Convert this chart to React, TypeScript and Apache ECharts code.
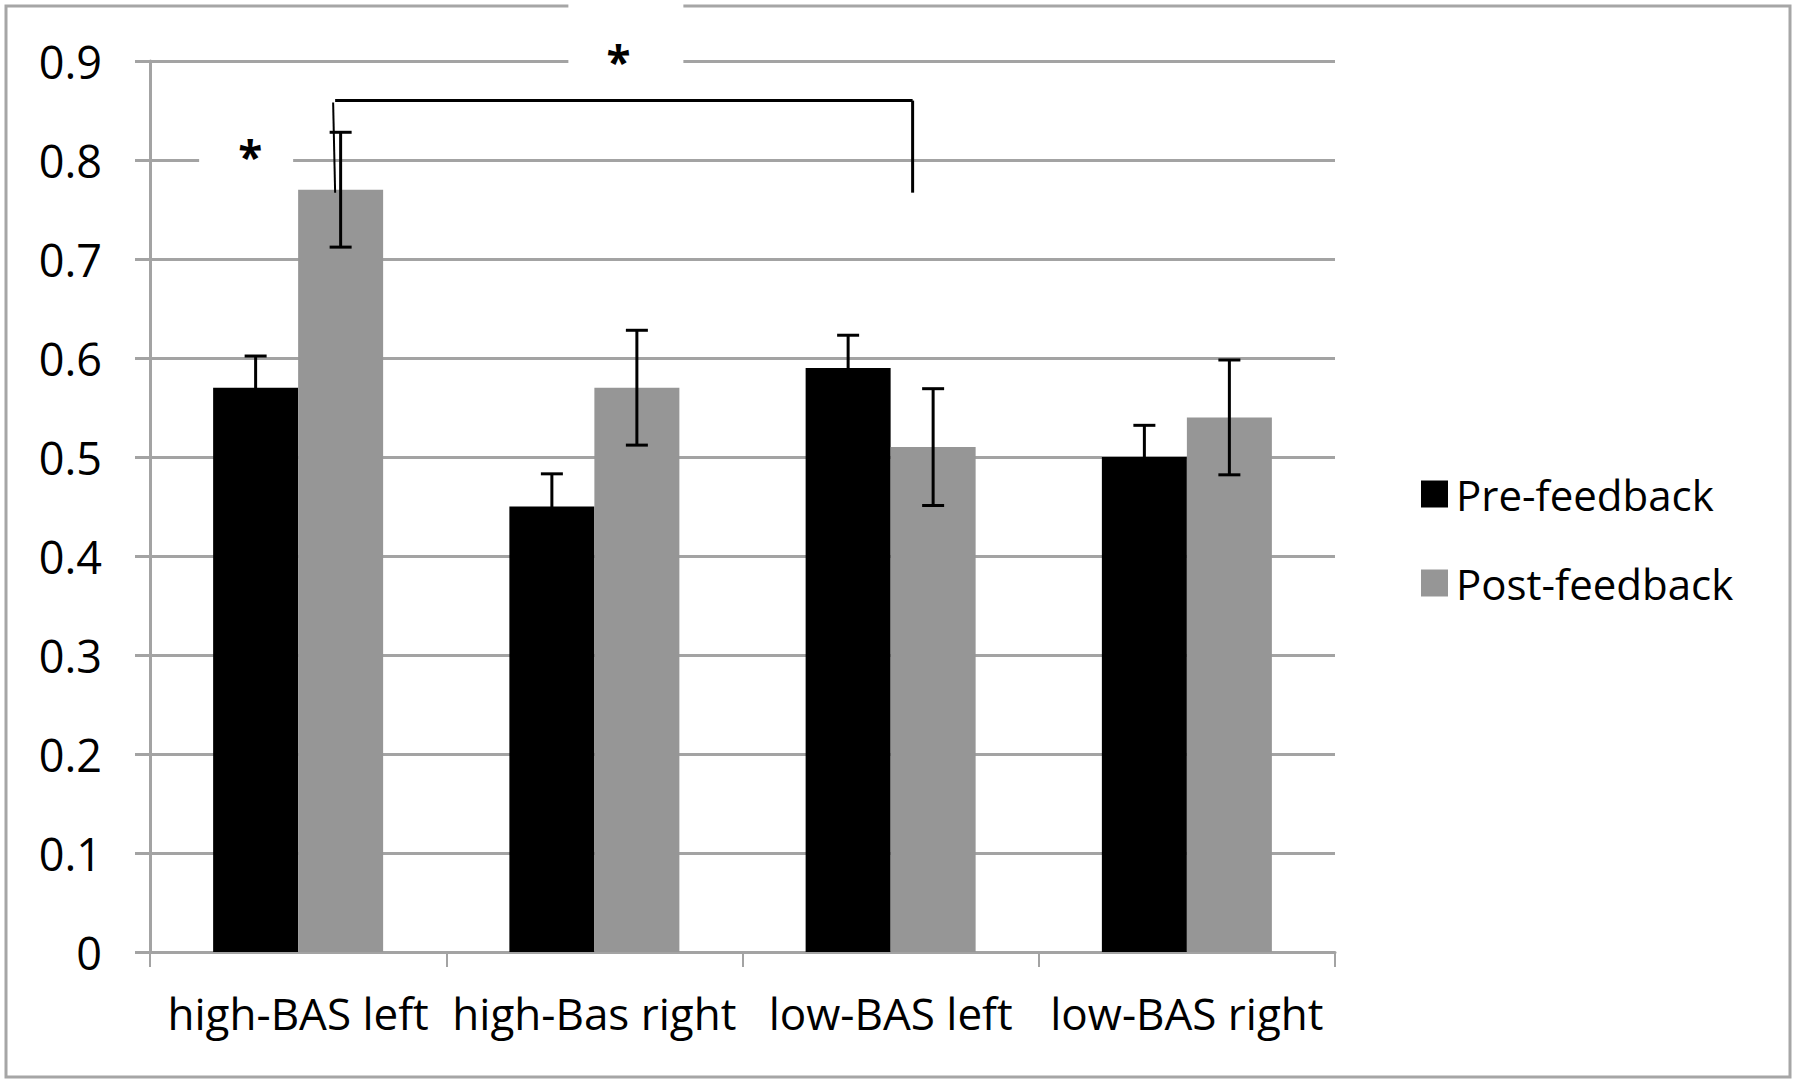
import React, { useEffect, useRef } from "react";
import * as echarts from "echarts";

const categories = ["high-BAS left", "high-Bas right", "low-BAS left", "low-BAS right"];
const seriesNames = ["Pre-feedback", "Post-feedback"];
const preValues = [0.57, 0.45, 0.59, 0.5];
const postValues = [0.77, 0.57, 0.51, 0.54];
const preErrors = [0.032, 0.033, 0.033, 0.032];
const postErrors = [0.058, 0.058, 0.059, 0.058];
const yTickLabels = ["0", "0.1", "0.2", "0.3", "0.4", "0.5", "0.6", "0.7", "0.8", "0.9"];
// significance annotations: [category index, value]
const starMarks = [
  [0, 0.812],
  [1, 0.908],
];
const bracketCats = [0, 2];
const bracketTop = 0.86;
const bracketBottom = 0.767;

const FONT = "'Open Sans', sans-serif";
const BAR_W = 85;
const GRID_COLOR = "#a3a3a3";
const PRE_COLOR = "#000000";
const POST_COLOR = "#969696";

function errorBarSeries(name: string, values: number[], errors: number[], side: number) {
  return {
    type: "custom",
    name: name + " error",
    z: 5,
    data: values.map((v, i) => [i, v - errors[i], v + errors[i]]),
    encode: { x: 0, y: [1, 2] },
    renderItem: (params: any, api: any) => {
      const i = api.value(0);
      const lo = api.coord([i, api.value(1)]);
      const hi = api.coord([i, api.value(2)]);
      const x = lo[0] + (side * BAR_W) / 2;
      const cap = 11;
      const style = { stroke: "#000", lineWidth: 3 };
      return {
        type: "group",
        children: [
          { type: "line", shape: { x1: x, y1: lo[1], x2: x, y2: hi[1] }, style },
          { type: "line", shape: { x1: x - cap, y1: hi[1], x2: x + cap, y2: hi[1] }, style },
          { type: "line", shape: { x1: x - cap, y1: lo[1], x2: x + cap, y2: lo[1] }, style },
        ],
      };
    },
  };
}

export default function App() {
  const ref = useRef<HTMLDivElement>(null);
  useEffect(() => {
    document.body.style.margin = "0";
    if (!ref.current) return;
    const chart = echarts.init(ref.current, null, { renderer: "svg" });
    const option: any = {
      animation: false,
      backgroundColor: "#ffffff",
      textStyle: { fontFamily: FONT },
      grid: { left: 150, right: 465, top: 61, bottom: 132, containLabel: false },
      legend: {
        data: seriesNames,
        orient: "vertical",
        left: 1416,
        top: 467,
        itemWidth: 27,
        itemHeight: 27,
        itemGap: 45,
        icon: "rect",
        textStyle: { fontFamily: FONT, fontSize: 42, color: "#000", lineHeight: 44, padding: [0, 0, 0, 3] },
      },
      xAxis: {
        type: "category",
        data: categories,
        axisLine: { show: true, lineStyle: { color: GRID_COLOR, width: 3 } },
        axisTick: { show: true, length: 15, lineStyle: { color: GRID_COLOR, width: 2 } },
        axisLabel: { fontFamily: FONT, fontSize: 44, color: "#000", margin: 39, interval: 0 },
        splitLine: { show: false },
      },
      yAxis: {
        type: "value",
        min: 0,
        max: 0.9,
        interval: 0.1,
        axisLine: { show: true, lineStyle: { color: GRID_COLOR, width: 3 } },
        axisTick: { show: true, length: 15, lineStyle: { color: GRID_COLOR, width: 3 } },
        axisLabel: {
          fontFamily: FONT,
          fontSize: 45,
          color: "#000",
          margin: 48,
          formatter: (v: number) => yTickLabels[Math.round(v * 10)],
        },
        splitLine: { show: true, lineStyle: { color: GRID_COLOR, width: 3 } },
      },
      graphic: {
        elements: [
          {
            type: "rect",
            z: 0,
            shape: { x: 6, y: 6, width: 1784, height: 1071 },
            style: { fill: "none", stroke: "#a6a6a6", lineWidth: 3 },
          },
        ],
      },
      series: [
        {
          type: "bar",
          name: seriesNames[0],
          data: preValues,
          barWidth: BAR_W,
          barGap: "0%",
          itemStyle: { color: PRE_COLOR },
          z: 2,
        },
        {
          type: "bar",
          name: seriesNames[1],
          data: postValues,
          barWidth: BAR_W,
          barGap: "0%",
          itemStyle: { color: POST_COLOR },
          z: 2,
        },
        errorBarSeries(seriesNames[0], preValues, preErrors, -1),
        errorBarSeries(seriesNames[1], postValues, postErrors, 1),
        {
          type: "custom",
          name: "significance",
          z: 10,
          silent: true,
          data: [[0, bracketTop]],
          encode: { x: 0, y: 1 },
          renderItem: (params: any, api: any) => {
            const s1 = api.coord(starMarks[0]);
            const s2 = api.coord(starMarks[1]);
            const sx1 = s1[0] - 48;
            const sx2 = s2[0] + 24;
            const bl = api.coord([bracketCats[0], bracketTop]);
            const br = api.coord([bracketCats[1], bracketTop]);
            const bottomY = api.coord([0, bracketBottom])[1];
            const lx = bl[0] + 36;
            const rx = br[0] + 22;
            const lineStyle = { stroke: "#000", lineWidth: 3 };
            const starStyle = (x: number, y: number) => ({
              text: "*",
              x,
              y: y + 8,
              fill: "#000",
              font: "bold 44px " + FONT,
              align: "center",
              verticalAlign: "middle",
            });
            return {
              type: "group",
              children: [
                { type: "rect", shape: { x: sx1 - 51, y: s1[1] - 30, width: 94, height: 60 }, style: { fill: "#fff" } },
                { type: "rect", shape: { x: sx2 - 50, y: s2[1] - 49, width: 115, height: 85 }, style: { fill: "#fff" } },
                { type: "text", style: starStyle(sx1, s1[1]) },
                { type: "text", style: starStyle(sx2, s2[1]) },
                { type: "line", shape: { x1: lx + 1, y1: bl[1], x2: rx, y2: br[1] }, style: lineStyle },
                { type: "line", shape: { x1: lx - 1, y1: bl[1] + 2, x2: lx + 1, y2: bottomY }, style: { stroke: "#000", lineWidth: 2 } },
                { type: "line", shape: { x1: rx, y1: br[1], x2: rx, y2: bottomY }, style: lineStyle },
              ],
            };
          },
        },
      ],
    };
    chart.setOption(option);
    return () => chart.dispose();
  }, []);
  return <div ref={ref} style={{ width: 1800, height: 1084 }} />;
}
